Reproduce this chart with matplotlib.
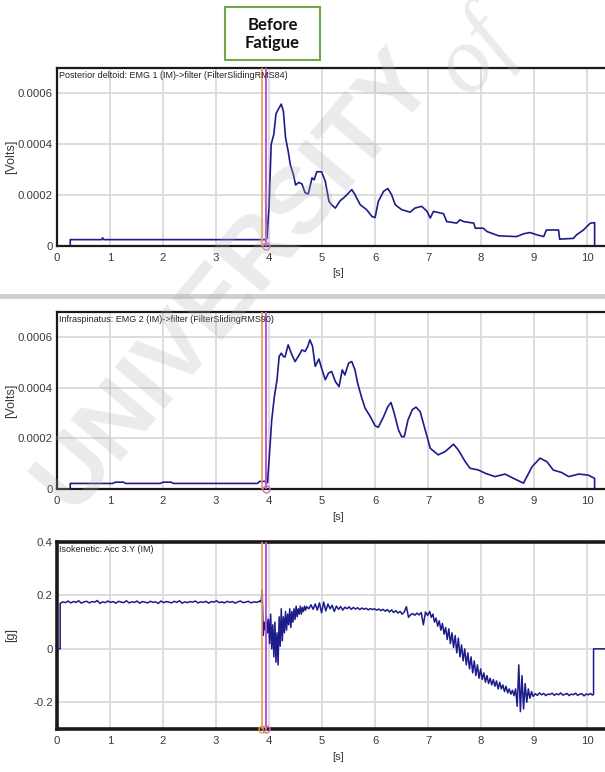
import matplotlib
matplotlib.use("Agg")
import matplotlib.pyplot as plt
import numpy as np
from matplotlib.patches import Rectangle
from matplotlib.lines import Line2D

plt.rcParams['font.family'] = ['Liberation Sans', 'DejaVu Sans']

# Posterior deltoid RMS envelope (values in 1e-4 V)
deltoid_t = [0.25, 0.25, 0.84, 0.86, 0.88, 3.93, 3.96, 4.00, 4.04, 4.09, 4.13, 4.18,
             4.23, 4.27, 4.31, 4.36, 4.40, 4.46, 4.50, 4.56, 4.62, 4.68, 4.74, 4.81,
             4.85, 4.90, 4.99, 5.06, 5.13, 5.19, 5.25, 5.34, 5.41, 5.47, 5.56, 5.62,
             5.72, 5.84, 5.94, 6.00, 6.06, 6.16, 6.24, 6.31, 6.38, 6.50, 6.58, 6.66,
             6.75, 6.88, 6.98, 7.04, 7.10, 7.29, 7.35, 7.54, 7.60, 7.67, 7.86, 7.89,
             8.04, 8.11, 8.33, 8.67, 8.80, 8.92, 9.05, 9.18, 9.23, 9.46, 9.48, 9.74,
             9.80, 9.93, 10.06, 10.14, 10.14]
deltoid_v = [0, 0.25, 0.25, 0.32, 0.25, 0.25, 0.3, 1.6, 4.0, 4.4, 5.2, 5.4,
             5.58, 5.3, 4.27, 3.73, 3.2, 2.8, 2.4, 2.5, 2.44, 2.09, 2.05, 2.68,
             2.6, 2.92, 2.92, 2.55, 1.75, 1.6, 1.49, 1.78, 1.9, 2.02, 2.22, 2.02,
             1.62, 1.43, 1.16, 1.12, 1.75, 2.15, 2.26, 2.02, 1.62, 1.43, 1.38, 1.33,
             1.49, 1.56, 1.36, 1.1, 1.36, 1.27, 0.96, 0.9, 1.03, 0.96, 0.9, 0.7,
             0.7, 0.57, 0.4, 0.37, 0.48, 0.53, 0.44, 0.37, 0.63, 0.63, 0.27, 0.3,
             0.44, 0.63, 0.9, 0.92, 0]

# Infraspinatus RMS envelope (values in 1e-4 V)
infra_t = [0.25, 0.25, 1.05, 1.10, 1.25, 1.30, 1.95, 2.00, 2.15, 2.20, 3.78, 3.82,
           3.93, 3.97, 4.00, 4.05, 4.10, 4.15, 4.19, 4.23, 4.27, 4.30, 4.36, 4.43,
           4.49, 4.55, 4.62, 4.68, 4.73, 4.77, 4.82, 4.87, 4.94, 4.99, 5.06, 5.12,
           5.18, 5.25, 5.32, 5.38, 5.43, 5.50, 5.56, 5.62, 5.67, 5.74, 5.81, 5.91,
           6.00, 6.06, 6.16, 6.24, 6.30, 6.36, 6.44, 6.50, 6.55, 6.62, 6.70, 6.77,
           6.85, 6.91, 6.98, 7.04, 7.19, 7.32, 7.48, 7.57, 7.70, 7.79, 7.95, 8.08,
           8.26, 8.45, 8.61, 8.80, 8.83, 8.96, 9.11, 9.24, 9.36, 9.52, 9.65, 9.84,
           10.02, 10.14, 10.14]
infra_v = [0, 0.22, 0.22, 0.27, 0.27, 0.22, 0.22, 0.27, 0.27, 0.22, 0.22, 0.3,
           0.3, 0.25, 1.15, 2.73, 3.66, 4.32, 5.24, 5.37, 5.24, 5.22, 5.7, 5.31,
           5.04, 5.24, 5.5, 5.44, 5.64, 5.9, 5.64, 4.85, 5.14, 4.78, 4.32, 4.58,
           4.65, 4.25, 4.05, 4.71, 4.51, 4.98, 5.04, 4.71, 4.19, 3.66, 3.2, 2.86,
           2.5, 2.44, 2.86, 3.26, 3.42, 3.0, 2.34, 2.07, 2.07, 2.73, 3.13, 3.24,
           3.06, 2.6, 2.07, 1.61, 1.35, 1.48, 1.77, 1.54, 1.08, 0.82, 0.75, 0.62,
           0.49, 0.59, 0.42, 0.23, 0.36, 0.88, 1.22, 1.08, 0.75, 0.65, 0.49, 0.59,
           0.55, 0.42, 0]

# Isokinetic accelerometer Y axis [g], sampled in segments (start, step, values)
acc_head_t = [0.0, 0.06]
acc_head_v = [0.0, 0.0]
acc_rest = [0.170, 0.176, 0.173, 0.179, 0.172, 0.177, 0.174, 0.180, 0.171, 0.176,
            0.178, 0.172, 0.177, 0.175, 0.181, 0.170, 0.176, 0.173, 0.179, 0.174,
            0.177, 0.171, 0.178, 0.175, 0.173, 0.180, 0.172, 0.176, 0.174, 0.179,
            0.171, 0.177, 0.175, 0.172, 0.178, 0.174, 0.176, 0.170, 0.179, 0.173,
            0.177, 0.175, 0.172, 0.178, 0.174, 0.180, 0.171, 0.176, 0.173, 0.177,
            0.175, 0.179, 0.172, 0.176, 0.174, 0.178, 0.171, 0.177, 0.175, 0.180,
            0.173, 0.176, 0.172, 0.178, 0.174, 0.177, 0.171, 0.176, 0.179, 0.173,
            0.175, 0.178, 0.172, 0.176, 0.174, 0.177]
acc_onset = [0.18, 0.175, 0.22, 0.05, 0.10, 0.07, 0.12, 0.06, 0.11, 0.02,
             0.13, 0.00, 0.09, -0.03, 0.10, -0.05, 0.06, -0.06, 0.12, 0.01,
             0.15, 0.03, 0.12, 0.06, 0.14, 0.07, 0.13, 0.09, 0.15, 0.08,
             0.14, 0.10, 0.15, 0.11, 0.16, 0.12, 0.15, 0.13, 0.16, 0.13,
             0.155, 0.14, 0.16, 0.145, 0.158]
acc_move = [0.150, 0.165, 0.148, 0.168, 0.145, 0.172, 0.135, 0.175, 0.142, 0.168,
            0.150, 0.163, 0.140, 0.160, 0.148, 0.158, 0.145, 0.156, 0.150, 0.157,
            0.148, 0.155, 0.149, 0.154, 0.147, 0.153, 0.148, 0.152, 0.146, 0.151,
            0.147, 0.150, 0.145, 0.149, 0.143, 0.148, 0.141, 0.147, 0.138, 0.146,
            0.136, 0.143, 0.134, 0.140, 0.130, 0.138, 0.158, 0.118, 0.128, 0.132,
            0.126, 0.134, 0.127, 0.136, 0.090, 0.138, 0.125]
acc_drop = [0.140, 0.118, 0.130, 0.100, 0.115, 0.085, 0.105, 0.070, 0.095, 0.055,
            0.080, 0.035, 0.075, 0.020, 0.060, 0.005, 0.050, -0.015, 0.040, -0.030,
            0.015, -0.045, 0.000, -0.060, -0.015, -0.075, -0.030, -0.090, -0.045, -0.100,
            -0.060, -0.110, -0.075, -0.115, -0.090, -0.125, -0.100, -0.130, -0.110, -0.135,
            -0.115, -0.140, -0.120, -0.150, -0.125, -0.150, -0.135, -0.160, -0.140, -0.165,
            -0.150, -0.170, -0.155, -0.175, -0.150, -0.215, -0.060, -0.235, -0.100, -0.225,
            -0.130, -0.200, -0.150, -0.185, -0.160, -0.178]
acc_end = [-0.168, -0.174, -0.165, -0.172, -0.167, -0.175, -0.169, -0.171, -0.166, -0.174,
           -0.168, -0.172, -0.165, -0.173, -0.170, -0.167, -0.175, -0.169, -0.172, -0.166,
           -0.174, -0.170, -0.168, -0.176, -0.169, -0.172, -0.167, -0.173]
acc_tail_t = [10.12, 10.12, 10.6]
acc_tail_v = [-0.17, 0.0, 0.0]

acc_segments = [(0.06, 0.05, acc_rest), (3.83, 0.02, acc_onset), (4.75, 0.04, acc_move),
                (7.03, 0.03, acc_drop), (9.02, 0.04, acc_end)]

# event markers [s]
marker_a = 3.86
marker_b = 3.95

xticks = list(range(0, 11))
emg_yticks = [0, 0.0002, 0.0004, 0.0006]
emg_yticklabels = ['0', '0.0002', '0.0004', '0.0006']
acc_yticks = [-0.2, 0, 0.2, 0.4]
acc_yticklabels = ['-0.2', '0', '0.2', '0.4']

acc_t = list(acc_head_t)
acc_v = list(acc_head_v)
for start, step, vals in acc_segments:
    acc_t += list(start + step * np.arange(len(vals)))
    acc_v += vals
acc_t += acc_tail_t
acc_v += acc_tail_v

W, H = 605, 772
fig = plt.figure(figsize=(W / 100, H / 100), dpi=100)
fig.patch.set_facecolor('white')

line_col = '#1c1c8a'
grid_col = '#dadada'
txt_col = '#3a3a3a'


def make_axes(top_px, bottom_px, lw):
    ax = fig.add_axes([57 / W, 1 - bottom_px / H, 562 / W, (bottom_px - top_px) / H])
    ax.set_xlim(0, 10.6)
    ax.set_xticks(xticks)
    ax.grid(True, color=grid_col, lw=1.3)
    ax.set_axisbelow(True)
    ax.tick_params(length=0, labelsize=8.2, colors=txt_col, pad=5)
    ax.tick_params(axis='y', pad=3)
    for s in ax.spines.values():
        s.set_color('#1a1a1a')
        s.set_linewidth(lw)
    ax.set_xlabel('[s]', fontsize=8, color=txt_col, labelpad=4)
    return ax


def add_markers(ax, ybot, both_circles):
    ax.axvline(marker_a, color='#e0a050', lw=1.2, zorder=4)
    ax.axvline(marker_b, color='#c050e0', lw=1.4, zorder=4)
    ax.plot([marker_b], [ybot], 'o', ms=5, mfc='none', mec='#d070c0', clip_on=False, zorder=5)
    if both_circles:
        ax.plot([marker_a], [ybot], 'o', ms=5, mfc='none', mec='#e0a050', clip_on=False, zorder=5)


def set_ylab(ax, text):
    ax.set_ylabel(text, fontsize=9, color=txt_col)
    ax.yaxis.set_label_coords(-0.071, 0.5)


# panel 1: posterior deltoid
ax1 = make_axes(68, 246, 1.6)
ax1.plot(deltoid_t, np.array(deltoid_v) * 1e-4, color=line_col, lw=1.2, zorder=3)
ax1.set_ylim(0, 0.0007)
ax1.set_yticks(emg_yticks)
ax1.set_yticklabels(emg_yticklabels)
set_ylab(ax1, '[Volts]')
add_markers(ax1, 0, False)
ax1.text(0.004, 0.985, 'Posterior deltoid: EMG 1 (IM)->filter (FilterSlidingRMS84)',
         transform=ax1.transAxes, ha='left', va='top', fontsize=6.5, color='#222222', zorder=6)

# panel 2: infraspinatus
ax2 = make_axes(312, 489, 1.6)
ax2.plot(infra_t, np.array(infra_v) * 1e-4, color=line_col, lw=1.2, zorder=3)
ax2.set_ylim(0, 0.0007)
ax2.set_yticks(emg_yticks)
ax2.set_yticklabels(emg_yticklabels)
set_ylab(ax2, '[Volts]')
add_markers(ax2, 0, False)
ax2.text(0.004, 0.985, 'Infraspinatus: EMG 2 (IM)->filter (FilterSlidingRMS90)',
         transform=ax2.transAxes, ha='left', va='top', fontsize=6.5, color='#222222', zorder=6)

# panel 3: accelerometer
ax3 = make_axes(542, 729, 2.6)
ax3.plot(acc_t, acc_v, color=line_col, lw=1.1, zorder=3)
ax3.set_ylim(-0.3, 0.4)
ax3.set_yticks(acc_yticks)
ax3.set_yticklabels(acc_yticklabels)
set_ylab(ax3, '[g]')
add_markers(ax3, -0.3, True)
ax3.text(0.004, 0.985, 'Isokenetic: Acc 3.Y (IM)',
         transform=ax3.transAxes, ha='left', va='top', fontsize=6.5, color='#222222', zorder=6)

# splitter bar between the EMG windows
fig.add_artist(Line2D([0, 1], [1 - 296 / H, 1 - 296 / H], transform=fig.transFigure,
                      color='#cfcfcf', lw=3.5))

# heading box
fig.add_artist(Rectangle((225 / W, 1 - 60 / H), 95 / W, 53 / H, transform=fig.transFigure,
                         facecolor='white', edgecolor='#70a84a', lw=1.5))
fig.text(272.5 / W, 1 - 34 / H, 'Before\nFatigue', ha='center', va='center',
         fontsize=12, fontweight='bold', family=['Lato', 'DejaVu Sans'],
         color='#111111', linespacing=1.2)

# faint watermark
fig.text(235 / W, 1 - 280 / H, 'UNIVERSITY', rotation=50, ha='center', va='center',
         fontsize=68, fontweight='bold', family=['Liberation Sans', 'DejaVu Sans'],
         color='#b0b0b0', alpha=0.25, zorder=10)
fig.text(475 / W, 1 - 55 / H, 'of', rotation=50, ha='center', va='center',
         fontsize=68, style='italic', family=['Liberation Serif', 'DejaVu Serif'],
         color='#b0b0b0', alpha=0.25, zorder=10)

fig.savefig('out.png', dpi=100)
